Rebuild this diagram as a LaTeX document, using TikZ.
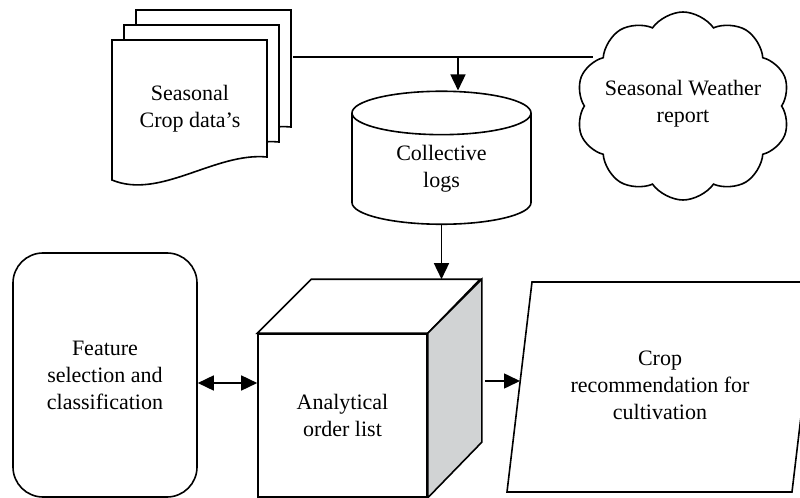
\documentclass[tikz,border=0pt]{standalone}
\usepackage{fontspec}
\setmainfont{Liberation Serif}
\usetikzlibrary{arrows.meta,positioning,shapes.geometric,shapes.symbols,calc}
\definecolor{SideGray}{RGB}{209,211,212}

\begin{document}
\begin{tikzpicture}[
 x=0.5pt, y=-0.5pt,
 line/.style={line width=0.8pt},
 arr/.style={line, -{Triangle[length=8pt,width=7.5pt]}},
 dbl/.style={line, {Triangle[length=8pt,width=7.5pt]}-{Triangle[length=8pt,width=7.5pt]}},
 lbl/.style={align=center, font=\fontsize{11}{13.5}\selectfont},
 box/.style={draw, line, fill=white, lbl, inner sep=0pt}
]
\useasboundingbox (0,0) rectangle (800,498);
\clip (0,0) rectangle (800,498);

% stacked documents
\foreach \dx/\dy in {24/-30, 12/-15, 0/0}
  \draw[line, fill=white] (112+\dx,40+\dy) -- (267+\dx,40+\dy) -- (267+\dx,157+\dy)
    .. controls (215+\dx,152+\dy) and (160+\dx,200+\dy) .. (112+\dx,180+\dy) -- cycle;
\node[lbl] (crop) at (190,109) {Seasonal\\Crop data’s};

% cloud
\node[box, cloud, cloud puffs=10, cloud puff arc=110, aspect=1.15,
  minimum width=107pt, minimum height=94pt] (weather) at (683,106) {};
\node[lbl] (weathertxt) at (683,104) {Seasonal Weather\\report};

\node[box, cylinder, shape border rotate=90, aspect=0.48,
  minimum width=89.5pt, minimum height=66.5pt] (logs) at (441.5,169) {Collective\\logs};

\node[box, rounded corners=15pt, minimum width=92pt, minimum height=122pt]
  (feat) at (105,375) {Feature\\selection and\\classification};

% cube
\node[box, minimum width=84.5pt, minimum height=81.5pt] (order) at (342.5,415.5) {Analytical\\order list};
\draw[line, fill=white] (order.north west) -- ++(54,-54) -- ++(169,0) -- (order.north east) -- cycle;
\draw[line, fill=SideGray] (order.north east) -- ++(54,-54) -- ++(0,163) -- (order.south east) -- cycle;
\coordinate (cubetop) at ($(order.north west)+(54,-54)$);

% parallelogram
\node[lbl] (rec) at (660,385) {Crop\\recommendation for\\cultivation};
\draw[line] (532,282) -- (817,282) -- (792,492) -- (507,492) -- cycle;
\coordinate (recin) at (520,381);

\coordinate (feed) at (293,57);
\coordinate (drop) at (458,57);
\coordinate (wx) at (593,57);
\coordinate (sideout) at (485,381);

\draw[line] (feed) -- (wx);
\draw[arr] (drop) -- (drop |- logs.north);
\draw[arr] (logs.south) -- (logs.south |- cubetop);
\draw[dbl] ([yshift=-4pt]feat.east) -- ([yshift=-4pt]feat.east -| order.west);
\draw[arr] (sideout) -- (recin);
\end{tikzpicture}
\end{document}
